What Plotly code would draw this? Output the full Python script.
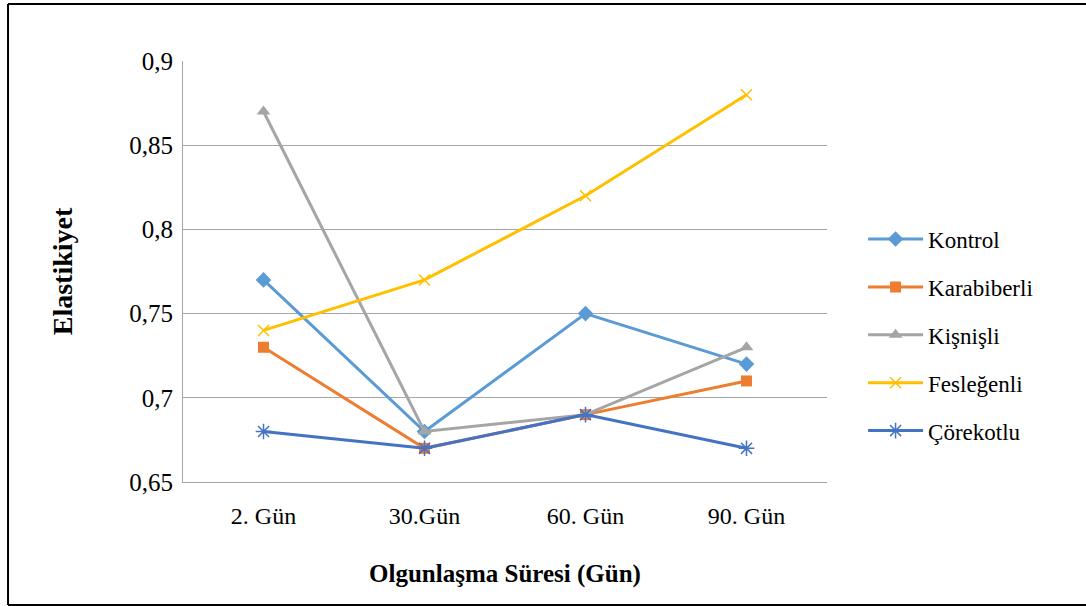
import plotly.graph_objects as go

categories = ["2. Gün", "30.Gün", "60. Gün", "90. Gün"]
kontrol = [0.77, 0.68, 0.75, 0.72]
karabiberli = [0.73, 0.67, 0.69, 0.71]
kisnisli = [0.87, 0.68, 0.69, 0.73]
feslegenli = [0.74, 0.77, 0.82, 0.88]
corekotlu = [0.68, 0.67, 0.69, 0.67]
y_ticks = [0.65, 0.7, 0.75, 0.8, 0.85, 0.9]

series = [
    ("Kontrol", kontrol, "#5B9BD5", dict(symbol="diamond", size=12)),
    ("Karabiberli", karabiberli, "#ED7D31", dict(symbol="square", size=11)),
    ("Kişnişli", kisnisli, "#A5A5A5", dict(symbol="triangle-up", size=12)),
    ("Fesleğenli", feslegenli, "#FFC000", dict(symbol="x-thin-open", size=11, line=dict(width=1.5, color="#FFC000"))),
    ("Çörekotlu", corekotlu, "#4472C4", dict(symbol="asterisk-open", size=13, line=dict(width=1.5, color="#4472C4"))),
]

fig = go.Figure()
for name, vals, color, mk in series:
    mk = dict(mk)
    mk.setdefault("color", color)
    fig.add_trace(go.Scatter(
        x=categories, y=vals, name=name, mode="lines+markers",
        line=dict(color=color, width=3), marker=mk, legendgroup=name,
    ))

font_family = "Liberation Serif, Times New Roman, serif"
border = dict(color="black", width=2)
bx0, bx1, by0, by1 = -0.2717, 1.6, -0.2922, 1.1354
fig.update_layout(
    width=1086, height=606,
    margin=dict(l=183, r=259, t=61, b=124),
    paper_bgcolor="white", plot_bgcolor="white",
    separators=",.",
    font=dict(family=font_family, color="black", size=24),
    showlegend=True,
    legend=dict(x=1.056, y=0.349, xanchor="left", yanchor="middle",
                font=dict(size=23, family=font_family), tracegroupgap=15,
                itemwidth=55),
    xaxis=dict(
        title=dict(text="<b>Olgunlaşma Süresi (Gün)</b>", font=dict(size=25), standoff=36),
        showgrid=False, showline=True, linecolor="#A6A6A6", linewidth=1,
        ticks="", tickfont=dict(size=24), range=[-0.5, 3.5], ticklabelstandoff=12,
    ),
    yaxis=dict(
        title=dict(text="<b>Elastikiyet</b>", font=dict(size=28), standoff=48),
        range=[0.65, 0.9], tickvals=y_ticks, showgrid=True, gridcolor="#A6A6A6",
        gridwidth=1, showline=True, linecolor="#A6A6A6", linewidth=1,
        ticks="", tickfont=dict(size=25), zeroline=False, ticklabelstandoff=4,
    ),
    shapes=[
        dict(type="line", xref="paper", yref="paper", x0=bx0, x1=bx0, y0=by0, y1=by1, line=border),
        dict(type="line", xref="paper", yref="paper", x0=bx0, x1=bx1, y0=by1, y1=by1, line=border),
        dict(type="line", xref="paper", yref="paper", x0=bx0, x1=bx1, y0=by0, y1=by0, line=border),
    ],
)

fig.write_html("out.html", config={"displayModeBar": False},
               post_script="document.body.style.margin='0px';")
